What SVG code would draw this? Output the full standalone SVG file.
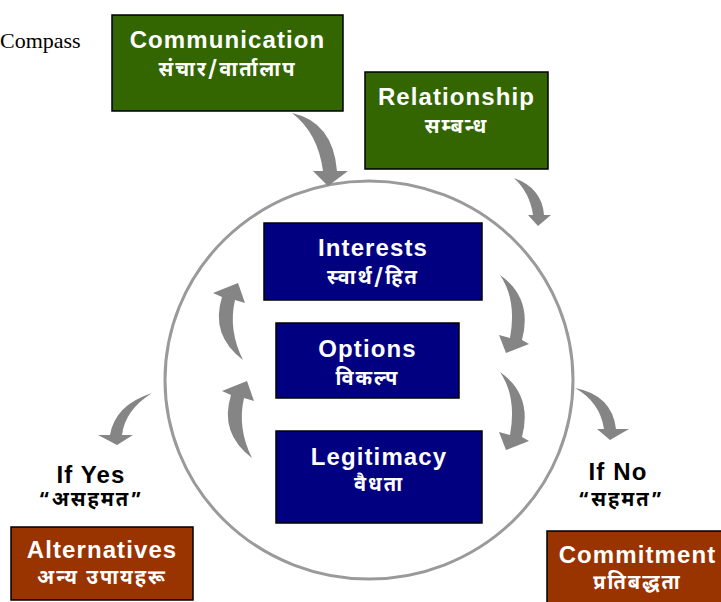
<svg xmlns="http://www.w3.org/2000/svg" width="721" height="602" viewBox="0 0 721 602">
<style>
.en{font-family:"Liberation Sans",Arial,sans-serif;font-weight:bold;font-size:24px;letter-spacing:1.1px;text-anchor:middle;fill:#fff}
.dv{font-family:"Noto Sans Devanagari","Noto Sans","Lohit Devanagari",sans-serif;font-weight:bold;font-size:20px;text-anchor:middle;fill:#fff;letter-spacing:2px}
.blk{fill:#000}
.g{fill:#336600;stroke:#000;stroke-width:1.5}
.b{fill:#000080;stroke:#000;stroke-width:1.5}
.r{fill:#993300;stroke:#000;stroke-width:1.5}
.arr{fill:#858585}
</style>
<rect width="721" height="602" fill="#fff"/>
<text x="0" y="48" font-family="Liberation Serif,Times New Roman,serif" font-size="22" fill="#000">Compass</text>
<ellipse cx="369" cy="380" rx="204" ry="199" fill="none" stroke="#9a9a9a" stroke-width="3"/>
<g id="connectors">
<path class="arr" d="M292,113 Q333,122 337,171 L348,171 L328,186 L313,171 L323,171 Q318,133 292,113 Z"/>
<path class="arr" d="M514,178 Q542,188 544,215 L551,215 L538,226 L528,215 L533,215 Q530,193 514,178 Z"/>
<path class="arr" d="M500,275 Q533,298 522,340 L529,344 L506,353 L499,335 L510,338 Q517,300 500,275 Z"/>
<path class="arr" d="M500,372 Q533,395 522,437 L529,441 L506,450 L499,432 L510,435 Q517,397 500,372 Z"/>
<path class="arr" d="M243,360 Q210,335 222,297 L213,293 L238,283 L245,303 L235,300 Q228,330 243,360 Z"/>
<path class="arr" d="M252,458 Q219,433 231,395 L222,391 L247,381 L254,401 L244,398 Q237,428 252,458 Z"/>
<path class="arr" d="M152,393 Q115,405 110,435 L98,435 L117,445 L133,435 L122,435 Q125,410 152,393 Z"/>
<path class="arr" d="M575,388 Q612,395 616,429 L629,429 L610,440 L597,429 L604,429 Q600,402 575,388 Z"/>
</g>
<g id="communication">
<rect class="g" x="112" y="15" width="231" height="96"/>
<text class="en" x="227.5" y="48">Communication</text>
<text class="dv" x="227.5" y="76">संचार/वार्तालाप</text>
</g>
<g id="relationship">
<rect class="g" x="365" y="72" width="183" height="97"/>
<text class="en" x="456.5" y="105">Relationship</text>
<text class="dv" x="456.5" y="133">सम्बन्ध</text>
</g>
<g id="interests">
<rect class="b" x="264" y="223" width="218" height="77"/>
<text class="en" x="373" y="256">Interests</text>
<text class="dv" x="373" y="284">स्वार्थ/हित</text>
</g>
<g id="options">
<rect class="b" x="276" y="323" width="183" height="75"/>
<text class="en" x="367.5" y="357">Options</text>
<text class="dv" x="367.5" y="385">विकल्प</text>
</g>
<g id="legitimacy">
<rect class="b" x="276" y="431" width="206" height="92"/>
<text class="en" x="379" y="465">Legitimacy</text>
<text class="dv" x="379" y="491">वैधता</text>
</g>
<g id="ifyes">
<text class="en blk" x="91" y="483">If Yes</text>
<text class="dv blk" x="91" y="506">“असहमत”</text>
</g>
<g id="ifno">
<text class="en blk" x="618" y="480">If No</text>
<text class="dv blk" x="621" y="506">“सहमत”</text>
</g>
<g id="alternatives">
<rect class="r" x="11" y="527" width="182" height="73"/>
<text class="en" x="102" y="558">Alternatives</text>
<text class="dv" x="102" y="584">अन्य उपायहरू</text>
</g>
<g id="commitment">
<rect class="r" x="547" y="531" width="182" height="75"/>
<text class="en" x="637.5" y="563">Commitment</text>
<text class="dv" x="637.5" y="589">प्रतिबद्धता</text>
</g>
</svg>
